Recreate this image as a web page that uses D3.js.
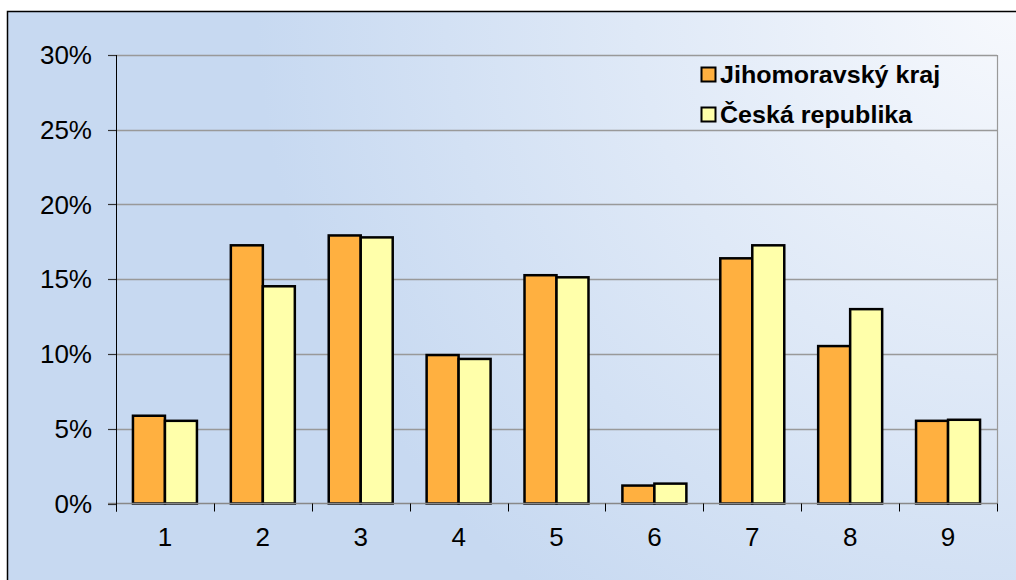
<!DOCTYPE html>
<html>
<head>
<meta charset="utf-8">
<script src="https://cdn.jsdelivr.net/npm/d3@7"></script>
<style>
  html, body { margin: 0; padding: 0; background: #fff; }
  svg { display: block; font-family: Arial, "Liberation Sans", sans-serif; }
</style>
</head>
<body>
<svg id="chart" width="1016" height="580"></svg>
<script>
const categories = ['1', '2', '3', '4', '5', '6', '7', '8', '9'];
const seriesNames = ['Jihomoravský kraj', 'Česká republika'];
const jihomoravsky = [0.0587, 0.1727, 0.1793, 0.0993, 0.1527, 0.012, 0.164, 0.1053, 0.0553];
const ceskaRepublika = [0.0553, 0.1453, 0.178, 0.0967, 0.1513, 0.0133, 0.1727, 0.13, 0.056];
const yTicks = [0, 0.05, 0.10, 0.15, 0.20, 0.25, 0.30];
const colors = ['#ffb040', '#ffffaa'];

const svg = d3.select('#chart');
const defs = svg.append('defs');

// background: blue, lightening towards the top right
const bg = defs.append('radialGradient')
    .attr('id', 'bg')
    .attr('gradientUnits', 'userSpaceOnUse')
    .attr('cx', 1016).attr('cy', 0).attr('r', 760);
bg.append('stop').attr('offset', '0%').attr('stop-color', '#f7f9fd');
bg.append('stop').attr('offset', '100%').attr('stop-color', '#c7d9f1');

svg.append('rect')
    .attr('x', 7.5).attr('y', 11.5)
    .attr('width', 1030).attr('height', 600)
    .attr('fill', 'url(#bg)')
    .attr('stroke', '#000')
    .attr('stroke-width', 1.5);

const margin = { left: 116, top: 55, right: 997, bottom: 503.5 };

const x = d3.scaleBand()
    .domain(categories)
    .range([margin.left, margin.right])
    .paddingInner(0)
    .paddingOuter(0);

const xInner = d3.scaleBand()
    .domain([0, 1])
    .range([0, x.bandwidth()])
    .paddingInner(0)
    .paddingOuter(0.53);

const y = d3.scaleLinear()
    .domain([0, 0.30])
    .range([margin.bottom, margin.top]);

// gridlines
svg.append('g')
    .selectAll('line')
    .data(yTicks.filter(d => d > 0))
    .enter()
    .append('line')
    .attr('x1', margin.left)
    .attr('x2', margin.right)
    .attr('y1', d => Math.round(y(d)) + 0.5)
    .attr('y2', d => Math.round(y(d)) + 0.5)
    .attr('stroke', '#999')
    .attr('stroke-width', 1.5);

// right border of plot
svg.append('line')
    .attr('x1', margin.right + 0.5).attr('x2', margin.right + 0.5)
    .attr('y1', margin.top).attr('y2', margin.bottom)
    .attr('stroke', '#999').attr('stroke-width', 1.2);

// bars
const data = categories.map((c, i) => ({ cat: c, values: [jihomoravsky[i], ceskaRepublika[i]] }));

const groups = svg.append('g')
    .selectAll('g')
    .data(data)
    .enter()
    .append('g')
    .attr('transform', d => `translate(${x(d.cat)},0)`);

groups.selectAll('rect')
    .data(d => d.values.map((v, k) => ({ k, v })))
    .enter()
    .append('rect')
    .attr('x', d => xInner(d.k))
    .attr('y', d => y(d.v))
    .attr('width', xInner.bandwidth())
    .attr('height', d => y(0) - y(d.v))
    .attr('fill', d => colors[d.k])
    .attr('stroke', '#000')
    .attr('stroke-width', 2.5);

// x axis
const xAxis = svg.append('g')
    .attr('transform', `translate(0,${margin.bottom})`);
xAxis.append('line')
    .attr('x1', margin.left - 8).attr('x2', margin.right)
    .attr('stroke', '#888').attr('stroke-width', 1.5);
xAxis.selectAll('line.tick')
    .data(d3.range(categories.length + 1))
    .enter()
    .append('line')
    .attr('class', 'tick')
    .attr('x1', i => Math.round(margin.left + i * x.step()) + 0.5)
    .attr('x2', i => Math.round(margin.left + i * x.step()) + 0.5)
    .attr('y1', 0).attr('y2', 8)
    .attr('stroke', '#000').attr('stroke-width', 1);
xAxis.selectAll('text')
    .data(categories)
    .enter()
    .append('text')
    .attr('x', d => x(d) + x.bandwidth() / 2)
    .attr('y', 42)
    .attr('text-anchor', 'middle')
    .attr('font-size', 26)
    .attr('fill', '#000')
    .text(d => d);

// y axis
const yAxis = svg.append('g');
yAxis.append('line')
    .attr('x1', margin.left + 0.5).attr('x2', margin.left + 0.5)
    .attr('y1', margin.top).attr('y2', margin.bottom + 8)
    .attr('stroke', '#000').attr('stroke-width', 1);
yAxis.selectAll('line.tick')
    .data(yTicks)
    .enter()
    .append('line')
    .attr('class', 'tick')
    .attr('x1', margin.left - 8).attr('x2', margin.left)
    .attr('y1', d => Math.round(y(d)) + 0.5)
    .attr('y2', d => Math.round(y(d)) + 0.5)
    .attr('stroke', '#333').attr('stroke-width', 1.2);
yAxis.selectAll('text')
    .data(yTicks)
    .enter()
    .append('text')
    .attr('x', 92)
    .attr('y', d => y(d) + 9)
    .attr('text-anchor', 'end')
    .attr('font-size', 26)
    .attr('fill', '#000')
    .text(d3.format('.0%'));

// legend
const legend = svg.append('g')
    .attr('transform', 'translate(701,67)');
const items = legend.selectAll('g')
    .data(seriesNames)
    .enter()
    .append('g')
    .attr('transform', (d, i) => `translate(0,${i * 40})`);
items.append('rect')
    .attr('x', 0.5).attr('y', 0.5)
    .attr('width', 14).attr('height', 14)
    .attr('fill', (d, i) => colors[i])
    .attr('stroke', '#000')
    .attr('stroke-width', 2);
items.append('text')
    .attr('transform', 'translate(19,15.5) scale(1.09,1)')
    .attr('font-size', 23)
    .attr('font-weight', 'bold')
    .attr('fill', '#000')
    .text(d => d);
</script>
</body>
</html>
